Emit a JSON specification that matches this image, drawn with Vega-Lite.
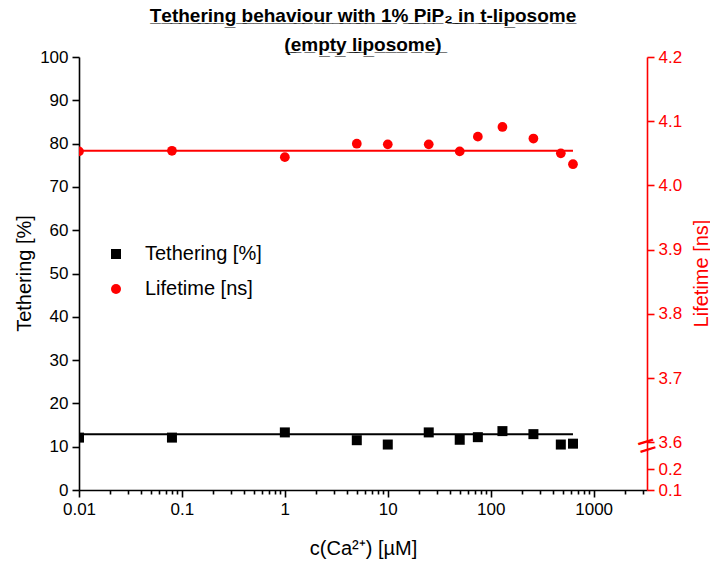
{
  "$schema": "https://vega.github.io/schema/vega-lite/v6.json",
  "width": 568,
  "height": 433,
  "autosize": {"type": "none"},
  "padding": {"left": 79, "top": 57, "right": 63, "bottom": 74},
  "background": "white",
  "config": {
    "view": {"stroke": null},
    "font": "Liberation Sans",
    "axis": {"grid": false, "labelFont": "Liberation Sans", "titleFont": "Liberation Sans", "labelFontSize": 17, "titleFontSize": 20, "titleFontWeight": "normal", "domainWidth": 1.6, "tickWidth": 1.6, "domainColor": "black", "tickColor": "black", "labelColor": "black", "titleColor": "black"}
  },
  "title": {
    "text": "T\u0332e\u0332t\u0332h\u0332e\u0332r\u0332i\u0332n\u0332g\u0332 \u0332b\u0332e\u0332h\u0332a\u0332v\u0332i\u0332o\u0332u\u0332r\u0332 \u0332w\u0332i\u0332t\u0332h\u0332 \u03321\u0332%\u0332 \u0332P\u0332i\u0332P\u0332₂\u0332 \u0332i\u0332n\u0332 \u0332t\u0332-\u0332l\u0332i\u0332p\u0332o\u0332s\u0332o\u0332m\u0332e\u0332",
    "subtitle": "(\u0332e\u0332m\u0332p\u0332t\u0332y\u0332 \u0332l\u0332i\u0332p\u0332o\u0332s\u0332o\u0332m\u0332e\u0332)\u0332",
    "font": "Liberation Sans",
    "subtitleFont": "Liberation Sans",
    "fontSize": 19,
    "subtitleFontSize": 19,
    "fontWeight": "bold",
    "subtitleFontWeight": "bold",
    "color": "black",
    "subtitleColor": "black",
    "anchor": "middle",
    "offset": -7,
    "subtitlePadding": 10
  },
  "datasets": {
    "tether": [
      {"c": 0.01, "v": 12.1, "series": "Tethering [%]"},
      {"c": 0.08, "v": 12.1, "series": "Tethering [%]"},
      {"c": 1, "v": 13.3, "series": "Tethering [%]"},
      {"c": 5, "v": 11.5, "series": "Tethering [%]"},
      {"c": 10, "v": 10.5, "series": "Tethering [%]"},
      {"c": 25, "v": 13.3, "series": "Tethering [%]"},
      {"c": 50, "v": 11.6, "series": "Tethering [%]"},
      {"c": 75, "v": 12.2, "series": "Tethering [%]"},
      {"c": 130, "v": 13.6, "series": "Tethering [%]"},
      {"c": 260, "v": 12.9, "series": "Tethering [%]"},
      {"c": 480, "v": 10.5, "series": "Tethering [%]"},
      {"c": 630, "v": 10.7, "series": "Tethering [%]"}
    ],
    "life": [
      {"c": 0.01, "v": 4.053, "series": "Lifetime [ns]"},
      {"c": 0.08, "v": 4.054, "series": "Lifetime [ns]"},
      {"c": 1, "v": 4.044, "series": "Lifetime [ns]"},
      {"c": 5, "v": 4.065, "series": "Lifetime [ns]"},
      {"c": 10, "v": 4.064, "series": "Lifetime [ns]"},
      {"c": 25, "v": 4.064, "series": "Lifetime [ns]"},
      {"c": 50, "v": 4.053, "series": "Lifetime [ns]"},
      {"c": 75, "v": 4.076, "series": "Lifetime [ns]"},
      {"c": 130, "v": 4.091, "series": "Lifetime [ns]"},
      {"c": 260, "v": 4.073, "series": "Lifetime [ns]"},
      {"c": 480, "v": 4.05, "series": "Lifetime [ns]"},
      {"c": 630, "v": 4.033, "series": "Lifetime [ns]"}
    ],
    "tetherFit": [
      {"c": 0.01, "v": 12.9},
      {"c": 630, "v": 12.9}
    ],
    "lifeFit": [
      {"c": 0.01, "v": 4.054},
      {"c": 630, "v": 4.054}
    ]
  },
  "layer": [
    {
      "layer": [
        {
          "data": {"name": "tetherFit"},
          "mark": {"type": "line", "color": "black", "strokeWidth": 2, "clip": true},
          "encoding": {
            "x": {
              "field": "c", "type": "quantitative",
              "scale": {"type": "log", "domain": [0.01, 3300], "nice": false},
              "axis": {
                "values": [0.01,0.02,0.03,0.04,0.05,0.06,0.07,0.08,0.09,0.1,0.2,0.3,0.4,0.5,0.6,0.7,0.8,0.9,1,2,3,4,5,6,7,8,9,10,20,30,40,50,60,70,80,90,100,200,300,400,500,600,700,800,900,1000,2000,3000],
                "labelExpr": "indexof([0.01,0.1,1,10,100,1000], datum.value) >= 0 ? format(datum.value, '~g') : ''",
                "tickSize": {"condition": {"test": "indexof([0.01,0.1,1,10,100,1000], datum.value) >= 0", "value": 7}, "value": 4},
                "labelFlush": false,
                "labelOverlap": false,
                "labelPadding": 4,
                "title": "c(Ca²⁺) [µM]",
                "titleY": 58,
                "titleX": 284,
                "titleBaseline": "middle",
                "titleAlign": "center"
              }
            },
            "y": {
              "field": "v", "type": "quantitative",
              "scale": {"domain": [0, 100], "nice": false, "zero": false},
              "axis": {
                "orient": "left",
                "values": [0,5,10,15,20,25,30,35,40,45,50,55,60,65,70,75,80,85,90,95,100],
                "labelExpr": "datum.value % 10 == 0 ? datum.label : ''",
                "tickSize": {"condition": {"test": "datum.value % 10 == 0", "value": 7}, "value": 4},
                "labelPadding": 4,
                "labelOverlap": false,
                "labelFlush": false,
                "title": "Tethering [%]",
                "titleX": -55,
                "titleY": 216,
                "titleAngle": 270,
                "titleBaseline": "middle",
                "titleAlign": "center"
              }
            }
          }
        },
        {
          "data": {"name": "tether"},
          "mark": {"type": "point", "filled": true, "size": 100, "opacity": 1, "clip": true},
          "encoding": {
            "x": {"field": "c", "type": "quantitative"},
            "y": {"field": "v", "type": "quantitative"},
            "color": {
              "field": "series", "type": "nominal",
              "scale": {"domain": ["Tethering [%]", "Lifetime [ns]"], "range": ["black", "red"]},
              "legend": {"orient": "none", "legendX": 27, "legendY": 187, "title": null, "labelFontSize": 20, "labelFont": "Liberation Sans", "labelColor": "black", "symbolSize": 100, "rowPadding": 15, "labelOffset": 19, "padding": 0, "symbolStrokeWidth": 0, "symbolOpacity": 1}
            },
            "shape": {
              "field": "series", "type": "nominal",
              "scale": {"domain": ["Tethering [%]", "Lifetime [ns]"], "range": ["square", "circle"]},
              "legend": {"orient": "none", "legendX": 27, "legendY": 187, "title": null, "labelFontSize": 20, "labelFont": "Liberation Sans", "labelColor": "black", "symbolSize": 100, "rowPadding": 15, "labelOffset": 19, "padding": 0, "symbolStrokeWidth": 0, "symbolOpacity": 1}
            }
          }
        }
      ]
    },
    {
      "layer": [
        {
          "data": {"name": "lifeFit"},
          "mark": {"type": "line", "color": "red", "strokeWidth": 2, "clip": true},
          "encoding": {
            "x": {"field": "c", "type": "quantitative"},
            "y": {
              "field": "v", "type": "quantitative",
              "scale": {"domain": [0.1, 0.2, 0.25, 3.6, 4.2], "range": [433, 412.3, 402, 385.3, 0], "nice": false, "zero": false},
              "axis": {
                "orient": "right",
                "values": [0.1,0.15,0.2,0.25,3.6,3.65,3.7,3.75,3.8,3.85,3.9,3.95,4,4.05,4.1,4.15,4.2],
                "labelExpr": "indexof([0.1,0.2,3.6,3.7,3.8,3.9,4,4.1,4.2], datum.value) >= 0 ? format(datum.value, '.1f') : ''",
                "tickSize": {"condition": {"test": "indexof([0.1,0.2,3.6,3.7,3.8,3.9,4,4.1,4.2], datum.value) >= 0", "value": 7}, "value": 4},
                "labelPadding": 4,
                "labelOverlap": false,
                "labelFlush": false,
                "domainColor": "red",
                "tickColor": "red",
                "labelColor": "red",
                "titleColor": "red",
                "title": "Lifetime [ns]",
                "titleX": 54,
                "titleY": 216,
                "titleAngle": 270,
                "titleBaseline": "middle",
                "titleAlign": "center"
              }
            }
          }
        },
        {
          "data": {"name": "life"},
          "mark": {"type": "point", "filled": true, "size": 95, "opacity": 1, "clip": true},
          "encoding": {
            "x": {"field": "c", "type": "quantitative"},
            "y": {"field": "v", "type": "quantitative"},
            "color": {"field": "series", "type": "nominal"},
            "shape": {"field": "series", "type": "nominal"}
          }
        },
        {
          "data": {"values": [{}]},
          "mark": {"type": "text", "text": "=", "color": "red", "fontSize": 32, "angle": -17, "align": "center", "baseline": "middle", "font": "Liberation Sans", "clip": false},
          "encoding": {
            "x": {"datum": 3300, "type": "quantitative"},
            "y": {"datum": 2.8, "type": "quantitative"}
          }
        }
      ]
    }
  ],
  "resolve": {"scale": {"y": "independent"}}
}
